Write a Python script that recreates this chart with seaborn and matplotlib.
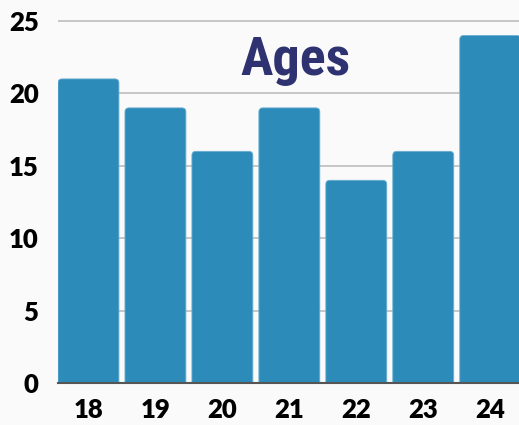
import pandas as pd
import seaborn as sns
import matplotlib.pyplot as plt
from matplotlib.patches import FancyBboxPatch

# Data
ages = ['18', '19', '20', '21', '22', '23', '24']
counts = [21, 19, 16, 19, 14, 16, 24]
df = pd.DataFrame({'Age': ages, 'Count': counts})

sns.set_style('white')
plt.rcParams['font.family'] = ['Lato', 'DejaVu Sans']

fig = plt.figure(figsize=(5.19, 4.25), dpi=100, facecolor='#fafafa')
ax = fig.add_axes([58 / 519, 42 / 425, 1 - 58 / 519, 383 / 425])
ax.set_facecolor('#fafafa')

sns.barplot(data=df, x='Age', y='Count', color='#2d8bba', saturation=1,
            width=0.91, ax=ax, zorder=2)

# rounded tops for the bars
for p in list(ax.patches):
    x, w, h = p.get_x(), p.get_width(), p.get_height()
    rb = FancyBboxPatch((x, -2), w, h + 2,
                        boxstyle='round,pad=0,rounding_size=0.06',
                        mutation_aspect=4.6, facecolor='#2d8bba',
                        edgecolor='#6fb0d3', linewidth=0.6, zorder=2)
    p.remove()
    ax.add_patch(rb)

ax.set_xlim(-0.455, 6.43)
ax.set_ylim(0, 26.45)
ax.set_yticks([0, 5, 10, 15, 20, 25])
ax.grid(axis='y', color='#bdbdbd', linewidth=1.2, zorder=0)
ax.set_axisbelow(True)
for s in ['left', 'right', 'top']:
    ax.spines[s].set_visible(False)
ax.spines['bottom'].set_color('#555555')
ax.spines['bottom'].set_linewidth(1.5)
ax.spines['bottom'].set_zorder(3)
ax.tick_params(axis='both', length=0, labelsize=18.5, colors='black')
ax.tick_params(axis='y', pad=14)
ax.tick_params(axis='x', pad=11)
for lbl in ax.get_xticklabels() + ax.get_yticklabels():
    lbl.set_fontweight('heavy')
ax.set_xlabel('')
ax.set_ylabel('')

ax.text(0.515, 0.804, 'Ages', transform=ax.transAxes, ha='center', va='baseline',
        fontsize=39, fontweight='bold', fontstretch='condensed', color='#2e3270',
        family=['Roboto Condensed', 'DejaVu Sans'], zorder=4)

fig.savefig('out.png', dpi=100, facecolor='#fafafa')
